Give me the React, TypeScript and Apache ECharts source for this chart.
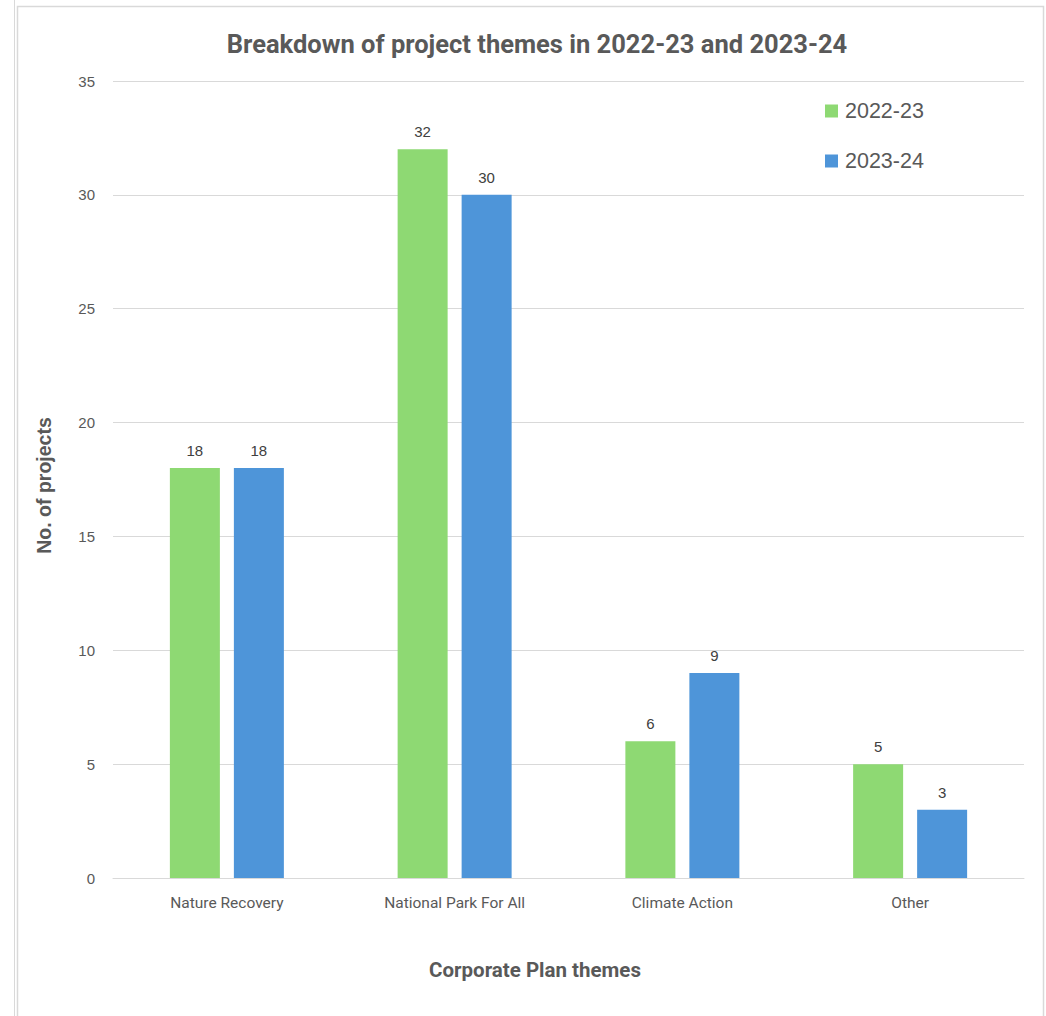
import React, { useEffect, useRef } from "react";
import * as echarts from "echarts";

const categories = ["Nature Recovery", "National Park For All", "Climate Action", "Other"];
const series2022 = [18, 32, 6, 5];
const series2023 = [18, 30, 9, 3];
const seriesNames = ["2022-23", "2023-24"];
const yTicks = { min: 0, max: 35, interval: 5 };

export default function App() {
  const ref = useRef<HTMLDivElement>(null);
  useEffect(() => {
    if (!ref.current) return;
    const chart = echarts.init(ref.current, null, { renderer: "svg" });
    const labelStyle = {
      show: true,
      position: "top",
      distance: 10,
      color: "#404040",
      fontSize: 15,
      fontFamily: "Liberation Sans",
    };
    chart.setOption({
      animation: false,
      backgroundColor: "#ffffff",
      title: {
        text: "Breakdown of project themes in 2022-23 and 2023-24",
        left: 532,
        textAlign: "center",
        top: 26,
        textStyle: {
          fontFamily: "Roboto, sans-serif",
          fontWeight: "bold",
          fontSize: 25.5,
          color: "#595959",
        },
      },
      legend: {
        orient: "vertical",
        left: 820,
        top: 95,
        itemWidth: 13,
        itemHeight: 13,
        itemGap: 28,
        icon: "rect",
        textStyle: { fontSize: 21.5, color: "#595959", fontFamily: "Liberation Sans", lineHeight: 22, padding: [0, 0, 0, 2] },
        data: seriesNames,
      },
      grid: { left: 113, right: 22, top: 81, bottom: 138 },
      xAxis: {
        type: "category",
        data: categories,
        axisLine: { lineStyle: { color: "#d9d9d9", width: 1 } },
        axisTick: { show: false },
        axisLabel: { color: "#595959", fontSize: 15.5, margin: 17, fontFamily: "Roboto" },
        name: "Corporate Plan themes",
        nameLocation: "middle",
        nameGap: 81,
        nameTextStyle: {
          fontSize: 20.5,
          fontWeight: "bold",
          color: "#595959",
          fontFamily: "Roboto",
          padding: [0, 67, 0, 0],
        },
      },
      yAxis: {
        type: "value",
        min: yTicks.min,
        max: yTicks.max,
        interval: yTicks.interval,
        axisLine: { show: false },
        axisTick: { show: false },
        splitLine: { lineStyle: { color: "#d9d9d9", width: 1 } },
        axisLabel: { color: "#595959", fontSize: 15, margin: 18, fontFamily: "Liberation Sans" },
        name: "No. of projects",
        nameLocation: "middle",
        nameGap: 59,
        nameTextStyle: {
          fontSize: 19.5,
          fontWeight: "bold",
          color: "#595959",
          fontFamily: "Liberation Sans",
          padding: [0, 12, 0, 0],
        },
      },
      graphic: [
        { type: "line", shape: { x1: 14.5, y1: 0, x2: 14.5, y2: 1016 }, style: { stroke: "#d9d9d9", lineWidth: 1 } },
        { type: "rect", shape: { x: 17.5, y: 6.5, width: 1026, height: 1020 }, style: { fill: "none", stroke: "#d9d9d9", lineWidth: 1.5 } },
      ],
      series: [
        {
          name: seriesNames[0],
          type: "bar",
          data: series2022,
          barWidth: 50,
          barGap: "28%",
          itemStyle: { color: "#8ed973" },
          label: labelStyle,
        },
        {
          name: seriesNames[1],
          type: "bar",
          data: series2023,
          barWidth: 50,
          barGap: "28%",
          itemStyle: { color: "#4e95d9" },
          label: labelStyle,
        },
      ],
    });
    return () => chart.dispose();
  }, []);
  return <div ref={ref} style={{ position: "fixed", left: 0, top: 0, width: 1046, height: 1016 }} />;
}
